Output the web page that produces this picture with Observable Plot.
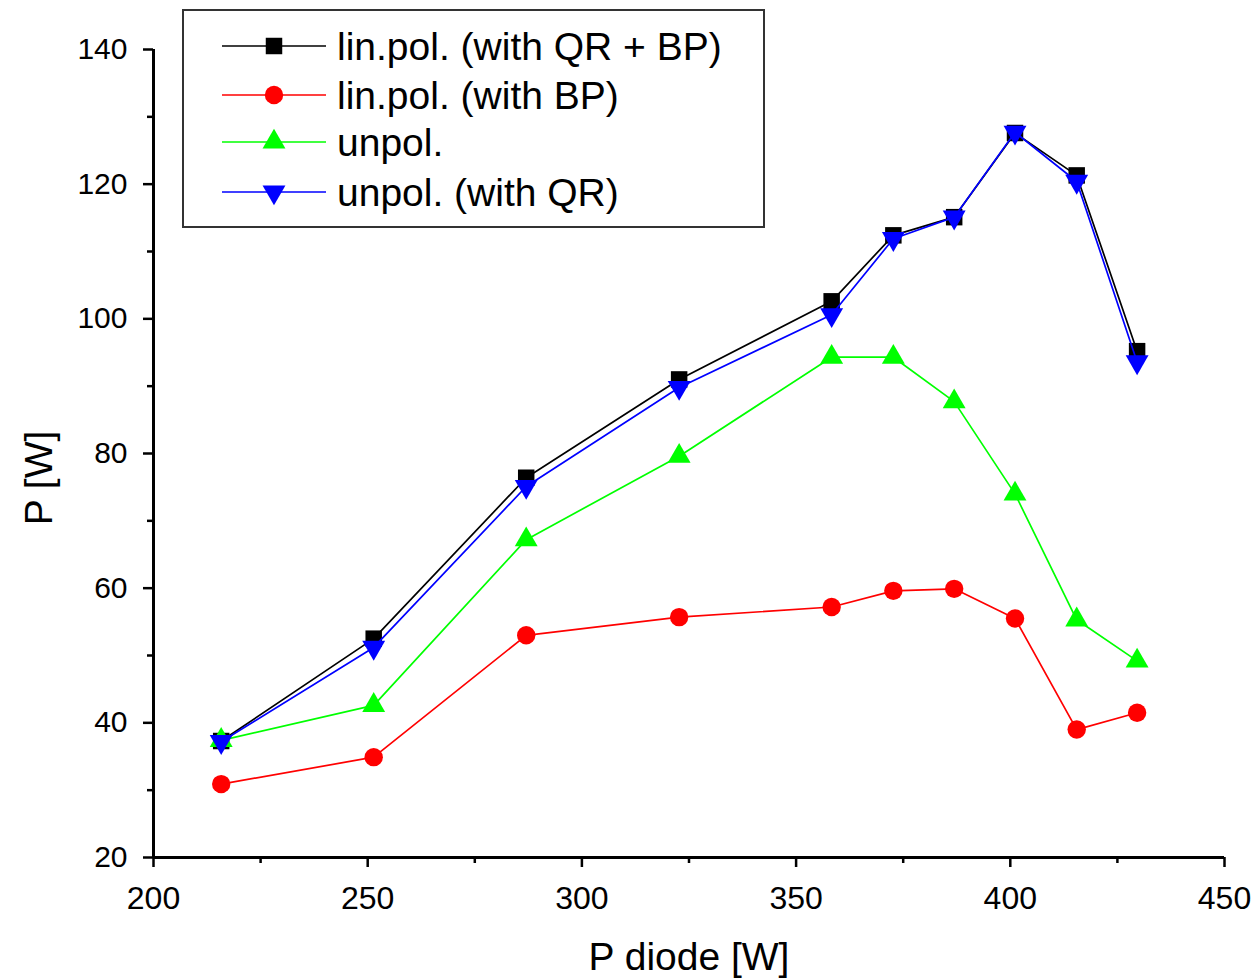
<!DOCTYPE html>
<html><head><meta charset="utf-8">
<script src="https://cdn.jsdelivr.net/npm/d3@7"></script>
<script src="https://cdn.jsdelivr.net/npm/@observablehq/plot@0.6"></script>
<style>body{margin:0;background:#fff}</style>
</head><body><div id="chart"></div>
<script>
// data
const pDiode      = [215.8, 251.4, 287.0, 322.7, 358.3, 372.7, 386.9, 401.1, 415.5, 429.6];
const linPolQRBP  = [37.3, 52.5, 76.4, 91.0, 102.6, 112.4, 115.1, 127.6, 121.3, 95.2];
const linPolBP    = [30.9, 34.9, 53.0, 55.7, 57.2, 59.6, 59.9, 55.5, 39.0, 41.5];
const unpol       = [37.4, 42.6, 67.2, 79.6, 94.3, 94.3, 87.7, 74.0, 55.3, 49.2];
const unpolQR     = [37.2, 51.2, 75.1, 89.8, 100.6, 111.9, 115.1, 127.7, 120.4, 93.6];

const seriesNames  = ["lin.pol. (with QR + BP)", "lin.pol. (with BP)", "unpol.", "unpol. (with QR)"];
const seriesValues = [linPolQRBP, linPolBP, unpol, unpolQR];
const seriesColors = ["#000000", "#ff0000", "#00ff00", "#0000ff"];

const xTicks      = [200, 250, 300, 350, 400, 450];
const xMinorTicks = [225, 275, 325, 375, 425];
const yTicks      = [20, 40, 60, 80, 100, 120, 140];
const yMinorTicks = [30, 50, 70, 90, 110, 130];

const xLabel = "P diode [W]";
const yLabel = "P [W]";

const triangleDown = {
  draw(context, size) {
    const y = -Math.sqrt(size / (Math.sqrt(3) * 3));
    context.moveTo(0, -y * 2);
    context.lineTo(-Math.sqrt(3) * y, y);
    context.lineTo(Math.sqrt(3) * y, y);
    context.closePath();
  }
};
const seriesSymbols = ["square", "circle", "triangle", triangleDown];
const seriesR = [9.3, 9.2, 8.5, 8.5];

const seriesData = seriesValues.map(vals => vals.map((v, j) => ({x: pDiode[j], y: v})));

const marks = [];
seriesData.forEach((d, i) => {
  marks.push(Plot.line(d, {x: "x", y: "y", stroke: seriesColors[i], strokeWidth: 1.7}));
  marks.push(Plot.dot(d, {x: "x", y: "y", fill: seriesColors[i], stroke: "none", symbol: seriesSymbols[i], r: seriesR[i]}));
});

const svg = Plot.plot({
  width: 1251,
  height: 980,
  marginLeft: 153,
  marginRight: 27,
  marginTop: 49,
  marginBottom: 123,
  style: {fontFamily: "'Liberation Sans', Arial, sans-serif", background: "#fff", color: "#000"},
  x: {domain: [200, 450]},
  y: {domain: [20, 140]},
  marks: [
    Plot.axisX(xTicks, {tickSize: 10, tickPadding: 19, fontSize: 32, strokeWidth: 2.5, label: null}),
    Plot.axisX(xMinorTicks, {tickSize: 6, tickFormat: () => "", strokeWidth: 2.5, label: null}),
    Plot.axisY(yTicks, {tickSize: 10, tickPadding: 16, fontSize: 30, strokeWidth: 2.5, label: null}),
    Plot.axisY(yMinorTicks, {tickSize: 6, tickFormat: () => "", strokeWidth: 2.5, label: null}),
    Plot.ruleX([200], {strokeWidth: 3}),
    Plot.ruleY([20], {strokeWidth: 3}),
    Plot.text([xLabel], {frameAnchor: "bottom", dy: 112, fontSize: 39}),
    ...marks
  ]
});

const sel = d3.select(svg);
// y axis title
sel.append("text").attr("transform", "translate(38,478) rotate(-90)")
  .attr("text-anchor", "middle").attr("dy", "0.36em")
  .attr("font-size", 39).attr("fill", "#000").text(yLabel);

// legend
const lg = sel.append("g");
lg.append("rect").attr("x", 183).attr("y", 10).attr("width", 581).attr("height", 217)
  .attr("fill", "#fff").attr("stroke", "#333").attr("stroke-width", 2);
const rowY = [46, 95, 142, 192];
const d3Sym = {square: d3.symbolSquare, circle: d3.symbolCircle, triangle: d3.symbolTriangle};
seriesNames.forEach((name, i) => {
  const g = lg.append("g").attr("transform", `translate(0,${rowY[i]})`);
  g.append("line").attr("x1", 222).attr("x2", 326).attr("y1", 0).attr("y2", 0)
    .attr("stroke", seriesColors[i]).attr("stroke-width", 1.7);
  const t = typeof seriesSymbols[i] === "string" ? d3Sym[seriesSymbols[i]] : seriesSymbols[i];
  g.append("path").attr("transform", "translate(274,0)")
    .attr("d", d3.symbol(t, Math.PI * seriesR[i] * seriesR[i])())
    .attr("fill", seriesColors[i]);
  g.append("text").attr("x", 337).attr("y", 0).attr("dy", "0.36em")
    .attr("text-anchor", "start")
    .attr("font-size", 39).attr("fill", "#000").text(name);
});

document.getElementById("chart").appendChild(svg);
</script>
</body></html>
